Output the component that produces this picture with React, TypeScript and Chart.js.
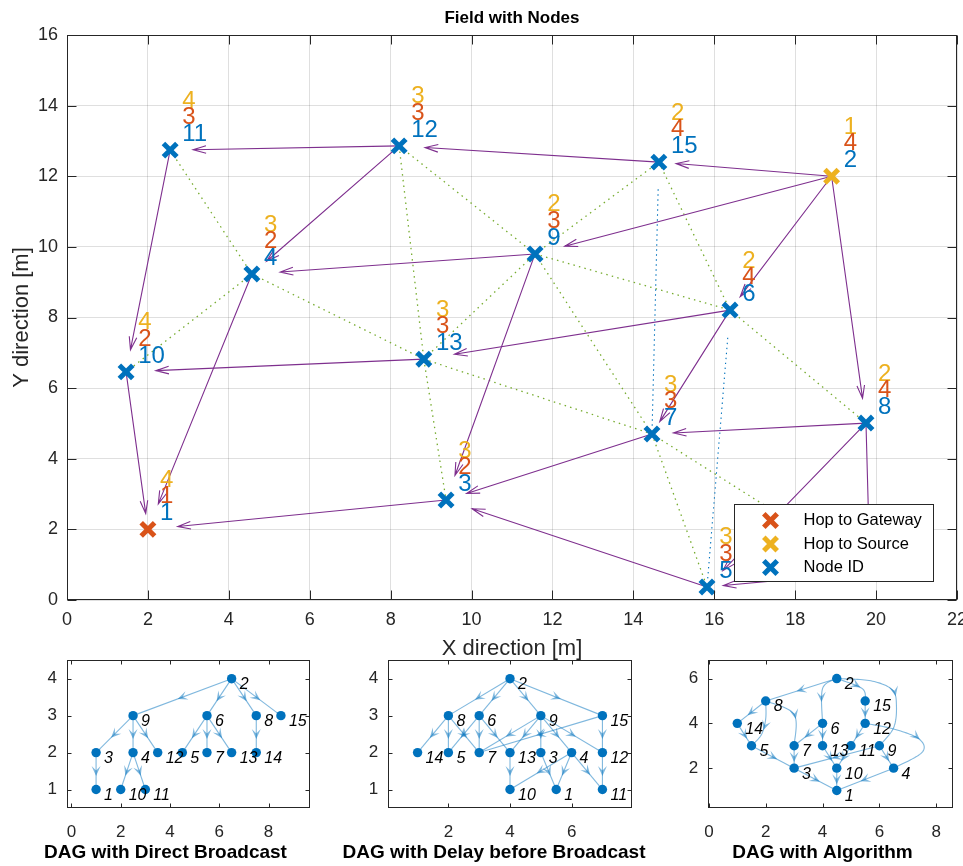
import React, { useEffect, useRef } from 'react';
import { Chart, registerables } from 'chart.js';
Chart.register(...registerables);

const FONT = '"Liberation Sans", Arial, Helvetica, sans-serif';
const BLUE = '#0072BD';
const RED = '#D95319';
const YELLOW = '#EDB120';
const PURPLE = '#7E2F8E';
const GREEN = '#77AC30';
const AXIS = '#262626';

// ---------------- Field data ----------------
const nodeIds = [1, 2, 3, 4, 5, 6, 7, 8, 9, 10, 11, 12, 13, 14, 15];
const nodeX = [2.0, 18.9, 9.37, 4.57, 15.82, 16.39, 14.46, 19.75, 11.57, 1.46, 2.55, 8.21, 8.82, 19.85, 14.63];
const nodeY = [2.0, 12.0, 2.83, 9.23, 0.37, 8.21, 4.70, 5.01, 9.80, 6.46, 12.74, 12.86, 6.82, 0.79, 12.40];
const hopToGateway = [1, 4, 2, 2, 3, 4, 3, 4, 3, 2, 3, 3, 3, 4, 4];
const hopToSource = [4, 1, 3, 3, 3, 2, 3, 2, 2, 4, 4, 3, 3, 2, 2];
const gatewayNodes = [1];
const sourceNodes = [2];
// routing arrows (from -> to)
const routeFrom = [2, 2, 2, 2, 15, 12, 12, 11, 10, 9, 9, 4, 13, 6, 6, 8, 8, 8, 14, 7, 5, 3];
const routeTo = [15, 9, 6, 8, 12, 11, 4, 10, 1, 4, 3, 1, 10, 13, 7, 7, 5, 14, 5, 3, 3, 1];
// neighbour links (green dotted)
const linkFrom = [11, 4, 4, 12, 13, 12, 13, 9, 9, 9, 7, 13, 15, 6, 7];
const linkTo = [4, 10, 13, 13, 3, 9, 9, 15, 6, 7, 5, 7, 6, 8, 14];
// blue dotted links
const blueFrom = [15, 6];
const blueTo = [7, 5];
const fieldXRange = [0, 22, 2];
const fieldYRange = [0, 16, 2];
const legendLabels = ['Hop to Gateway', 'Hop to Source', 'Node ID'];

// ---------------- DAG data ----------------
const dag1X = [1, 6.5, 1, 2.5, 4.5, 5.5, 5.5, 7.5, 2.5, 2, 3, 3.5, 6.5, 7.5, 8.5];
const dag1Y = [1, 4, 2, 2, 2, 3, 2, 3, 3, 1, 1, 2, 2, 2, 3];
const dag1From = [2, 2, 2, 2, 9, 9, 9, 6, 6, 6, 8, 3, 4, 4];
const dag1To = [9, 6, 8, 15, 3, 4, 12, 5, 7, 13, 14, 1, 10, 11];
const dag1XTicks = [0, 2, 4, 6, 8];
const dag1YTicks = [1, 2, 3, 4];

const dag2X = [5.5, 4, 5, 6, 2, 3, 3, 2, 5, 4, 7, 7, 4, 1, 7];
const dag2Y = [1, 4, 2, 2, 2, 3, 2, 3, 3, 1, 1, 2, 2, 2, 3];
const dag2From = [2, 2, 2, 2, 8, 8, 8, 6, 6, 6, 9, 9, 9, 9, 9, 15, 15, 13, 3, 4, 4, 4, 12];
const dag2To = [8, 6, 9, 15, 14, 5, 7, 5, 7, 13, 7, 13, 3, 4, 12, 7, 12, 10, 1, 1, 10, 11, 11];
const dag2XTicks = [2, 4, 6];
const dag2YTicks = [1, 2, 3, 4];

const dag3X = [4.5, 4.5, 3, 6.5, 1.5, 4, 3, 2, 6, 4.5, 5, 5.5, 4, 1, 5.5];
const dag3Y = [1, 6, 2, 2, 3, 4, 3, 5, 3, 2, 3, 4, 3, 4, 5];
const dag3From = routeFrom;
const dag3To = routeTo;
const dag3BendFrom = [2, 12, 8, 8, 2, 2];
const dag3BendTo = [9, 4, 5, 7, 6, 15];
const dag3BendX = [[5.7, 6.45, 6.6, 6.5], [6.5, 7.4, 7.5], [2.0, 1.85], [3.0], [4.0], [5.4]];
const dag3BendY = [[5.9, 5.5, 4.8, 3.8], [3.75, 3.3, 2.7], [4.2, 3.5], [4.4], [5.55], [5.55]];
const dag3XTicks = [0, 2, 4, 6, 8];
const dag3YTicks = [2, 4, 6];

// ---------------- helpers ----------------
const boxPlugin = {
  id: 'matlabBox',
  afterDraw(chart: any, _args: any, opts: any) {
    const { ctx, chartArea: ca, scales } = chart;
    const len = opts.tickLen || 5;
    ctx.save();
    ctx.strokeStyle = AXIS;
    ctx.lineWidth = 1;
    const L = Math.round(ca.left) + 0.5, R = Math.round(ca.right) - 0.5;
    const T = Math.round(ca.top) + 0.5, B = Math.round(ca.bottom) - 0.5;
    ctx.strokeRect(L, T, R - L, B - T);
    ctx.beginPath();
    scales.x.ticks.forEach((t: any) => {
      const p = Math.round(scales.x.getPixelForValue(t.value)) + 0.5;
      ctx.moveTo(p, B); ctx.lineTo(p, B - len);
      ctx.moveTo(p, T); ctx.lineTo(p, T + len);
    });
    scales.y.ticks.forEach((t: any) => {
      const p = Math.round(scales.y.getPixelForValue(t.value)) + 0.5;
      ctx.moveTo(L, p); ctx.lineTo(L + len, p);
      ctx.moveTo(R, p); ctx.lineTo(R - len, p);
    });
    ctx.stroke();
    ctx.restore();
  },
};

function drawCross(ctx: any, x: number, y: number, r: number, color: string) {
  const o = r * Math.SQRT1_2;
  ctx.save();
  ctx.strokeStyle = color;
  ctx.lineWidth = 5;
  ctx.beginPath();
  ctx.moveTo(x - o, y - o); ctx.lineTo(x + o, y + o);
  ctx.moveTo(x + o, y - o); ctx.lineTo(x - o, y + o);
  ctx.stroke();
  ctx.restore();
}

const fieldPlugin = {
  id: 'fieldOverlay',
  beforeDatasetsDraw(chart: any) {
    const { ctx, scales, chartArea: ca } = chart;
    const P = (id: number) => [scales.x.getPixelForValue(nodeX[id - 1]), scales.y.getPixelForValue(nodeY[id - 1])];
    ctx.save();
    ctx.beginPath();
    ctx.rect(ca.left, ca.top, ca.right - ca.left, ca.bottom - ca.top);
    ctx.clip();
    // green dotted links
    ctx.strokeStyle = GREEN;
    ctx.lineWidth = 1.3;
    ctx.setLineDash([1.5, 4.2]);
    linkFrom.forEach((f, k) => {
      const a = P(f), b = P(linkTo[k]);
      ctx.beginPath(); ctx.moveTo(a[0], a[1]); ctx.lineTo(b[0], b[1]); ctx.stroke();
    });
    // blue dotted
    ctx.strokeStyle = BLUE;
    ctx.lineWidth = 1.1;
    ctx.setLineDash([1.4, 3.6]);
    blueFrom.forEach((f, k) => {
      const a = P(f), b = P(blueTo[k]);
      ctx.beginPath();
      ctx.moveTo(a[0] + 0.1 * (b[0] - a[0]), a[1] + 0.1 * (b[1] - a[1]));
      ctx.lineTo(a[0] + 0.97 * (b[0] - a[0]), a[1] + 0.97 * (b[1] - a[1]));
      ctx.stroke();
    });
    // purple arrows (quiver scale 0.9)
    ctx.setLineDash([]);
    ctx.strokeStyle = PURPLE;
    ctx.lineWidth = 1.1;
    routeFrom.forEach((f, k) => {
      const a = P(f), b = P(routeTo[k]);
      const tx = a[0] + 0.9 * (b[0] - a[0]), ty = a[1] + 0.9 * (b[1] - a[1]);
      const d = Math.hypot(tx - a[0], ty - a[1]);
      const ux = (tx - a[0]) / d, uy = (ty - a[1]) / d;
      const hl = 13, hw = 3.8;
      ctx.beginPath();
      ctx.moveTo(a[0], a[1]); ctx.lineTo(tx, ty);
      ctx.moveTo(tx - hl * ux - hw * uy, ty - hl * uy + hw * ux);
      ctx.lineTo(tx, ty);
      ctx.lineTo(tx - hl * ux + hw * uy, ty - hl * uy - hw * ux);
      ctx.stroke();
    });
    ctx.restore();
  },
  afterDatasetsDraw(chart: any) {
    const { ctx, scales } = chart;
    ctx.save();
    ctx.font = `24px ${FONT}`;
    ctx.textAlign = 'left';
    ctx.textBaseline = 'middle';
    const layers: [number[], string, number][] = [
      [hopToSource, YELLOW, 1.39],
      [hopToGateway, RED, 0.93],
      [nodeIds, BLUE, 0.45],
    ];
    layers.forEach(([vals, color, dy]) => {
      ctx.fillStyle = color;
      nodeIds.forEach((id, i) => {
        const x = scales.x.getPixelForValue(nodeX[i] + 0.3);
        const y = scales.y.getPixelForValue(nodeY[i] + dy);
        ctx.fillText(String(vals[i]), x, y);
      });
    });
    ctx.restore();
  },
  afterDraw(chart: any) {
    const { ctx, chartArea: ca } = chart;
    const w = 199, h = 77;
    const x0 = Math.round(ca.right - 24 - w) + 0.5, y0 = Math.round(ca.bottom - 19 - h) + 0.5;
    ctx.save();
    ctx.fillStyle = '#fff';
    ctx.fillRect(x0, y0, w, h);
    ctx.strokeStyle = AXIS;
    ctx.lineWidth = 1;
    ctx.strokeRect(x0, y0, w, h);
    const colors = [RED, YELLOW, BLUE];
    const rows = [16, 39.5, 63];
    ctx.font = `16.5px ${FONT}`;
    ctx.textBaseline = 'middle';
    ctx.textAlign = 'left';
    legendLabels.forEach((lab, i) => {
      drawCross(ctx, x0 + 36, y0 + rows[i], 9.5, colors[i]);
      ctx.fillStyle = '#000';
      ctx.fillText(lab, x0 + 69, y0 + rows[i]);
    });
    ctx.restore();
  },
};

function catmull(pts: number[][], samples = 16): number[][] {
  if (pts.length < 3) return pts;
  const out: number[][] = [];
  for (let i = 0; i < pts.length - 1; i++) {
    const p0 = pts[Math.max(i - 1, 0)], p1 = pts[i], p2 = pts[i + 1], p3 = pts[Math.min(i + 2, pts.length - 1)];
    for (let s = 0; s < samples; s++) {
      const t = s / samples, t2 = t * t, t3 = t2 * t;
      const c = (k: number) => 0.5 * (2 * p1[k] + (-p0[k] + p2[k]) * t + (2 * p0[k] - 5 * p1[k] + 4 * p2[k] - p3[k]) * t2 + (-p0[k] + 3 * p1[k] - 3 * p2[k] + p3[k]) * t3);
      out.push([c(0), c(1)]);
    }
  }
  out.push(pts[pts.length - 1]);
  return out;
}

function makeDagPlugin(xs: number[], ys: number[], from: number[], to: number[], bFrom: number[], bTo: number[], bX: number[][], bY: number[][], title: string, titleX: number) {
  return {
    id: 'dagOverlay',
    beforeDatasetsDraw(chart: any) {
      const { ctx, scales } = chart;
      const px = (x: number, y: number) => [scales.x.getPixelForValue(x), scales.y.getPixelForValue(y)];
      ctx.save();
      ctx.strokeStyle = 'rgba(0,114,189,0.5)';
      ctx.fillStyle = 'rgba(0,114,189,0.5)';
      ctx.lineWidth = 1.1;
      from.forEach((f, k) => {
        const t = to[k];
        const pts: number[][] = [[xs[f - 1], ys[f - 1]]];
        const bi = bFrom.findIndex((bf, j) => bf === f && bTo[j] === t);
        if (bi >= 0) bX[bi].forEach((vx, j) => pts.push([vx, bY[bi][j]]));
        pts.push([xs[t - 1], ys[t - 1]]);
        const path = catmull(pts.map((p) => px(p[0], p[1])));
        ctx.beginPath();
        ctx.moveTo(path[0][0], path[0][1]);
        for (let i = 1; i < path.length; i++) ctx.lineTo(path[i][0], path[i][1]);
        ctx.stroke();
        // arrowhead at middle
        const cum = [0];
        for (let i = 1; i < path.length; i++) cum.push(cum[i - 1] + Math.hypot(path[i][0] - path[i - 1][0], path[i][1] - path[i - 1][1]));
        const total = cum[cum.length - 1];
        const hl = 10, hw = 4.5;
        const target = total / 2 + hl / 2;
        let i = 1;
        while (i < cum.length - 1 && cum[i] < target) i++;
        const seg = cum[i] - cum[i - 1] || 1;
        const r = (target - cum[i - 1]) / seg;
        const tx = path[i - 1][0] + r * (path[i][0] - path[i - 1][0]);
        const ty = path[i - 1][1] + r * (path[i][1] - path[i - 1][1]);
        const ux = (path[i][0] - path[i - 1][0]) / seg, uy = (path[i][1] - path[i - 1][1]) / seg;
        ctx.beginPath();
        ctx.moveTo(tx, ty);
        ctx.lineTo(tx - hl * ux - hw * uy, ty - hl * uy + hw * ux);
        ctx.lineTo(tx - 0.55 * hl * ux, ty - 0.55 * hl * uy);
        ctx.lineTo(tx - hl * ux + hw * uy, ty - hl * uy - hw * ux);
        ctx.closePath();
        ctx.fill();
      });
      ctx.restore();
    },
    afterDatasetsDraw(chart: any) {
      const { ctx, scales } = chart;
      ctx.save();
      ctx.font = `italic 16px ${FONT}`;
      ctx.fillStyle = '#000';
      ctx.textBaseline = 'middle';
      ctx.textAlign = 'left';
      nodeIds.forEach((id, i) => {
        ctx.fillText(String(id), scales.x.getPixelForValue(xs[i]) + 8, scales.y.getPixelForValue(ys[i]) + 6);
      });
      ctx.restore();
    },
    afterDraw(chart: any) {
      const { ctx } = chart;
      ctx.save();
      ctx.font = `bold 19px ${FONT}`;
      ctx.fillStyle = '#000';
      ctx.textAlign = 'center';
      ctx.textBaseline = 'middle';
      ctx.fillText(title, titleX, 213);
      ctx.restore();
    },
  };
}

function FieldChart() {
  const ref = useRef<HTMLCanvasElement>(null);
  useEffect(() => {
    const isSpecial = (id: number) => gatewayNodes.includes(id) || sourceNodes.includes(id);
    const pt = (id: number) => ({ x: nodeX[id - 1], y: nodeY[id - 1] });
    const mk = (label: string, ids: number[], color: string) => ({
      label,
      data: ids.map(pt),
      showLine: false,
      pointStyle: 'crossRot',
      pointRadius: 9.5,
      pointHoverRadius: 9.5,
      pointBorderWidth: 5,
      pointHoverBorderWidth: 5,
      pointBorderColor: color,
      pointBackgroundColor: color,
      borderColor: color,
      backgroundColor: color,
    });
    const layoutPadding = { top: 0, right: 24, bottom: 0, left: 0 };
    const chart = new Chart(ref.current as HTMLCanvasElement, {
      type: 'scatter',
      data: {
        datasets: [
          mk(legendLabels[2], nodeIds.filter((id) => !isSpecial(id)), BLUE),
          mk(legendLabels[0], gatewayNodes, RED),
          mk(legendLabels[1], sourceNodes, YELLOW),
        ] as any,
      },
      options: {
        animation: false,
        responsive: false,
        maintainAspectRatio: false,
        events: [],
        layout: { padding: layoutPadding },
        plugins: {
          legend: { display: false },
          tooltip: { enabled: false },
          title: {
            display: true,
            text: 'Field with Nodes',
            color: '#000',
            font: { family: FONT, size: 17, weight: 'bold' },
            padding: { top: 7.8, bottom: 6.8 },
            fullSize: false,
          },
          matlabBox: { tickLen: 9 },
        } as any,
        scales: {
          x: {
            type: 'linear',
            min: fieldXRange[0],
            max: fieldXRange[1],
            ticks: { stepSize: fieldXRange[2], color: AXIS, font: { family: FONT, size: 18 }, padding: 9, maxRotation: 0, autoSkip: false },
            grid: { color: 'rgba(38,38,38,0.15)', lineWidth: 1, drawTicks: false },
            border: { display: false },
            title: { display: true, text: 'X direction [m]', color: AXIS, font: { family: FONT, size: 22 }, padding: { top: 0, bottom: 0 } },
            afterFit: (s: any) => { s.height = 62; },
          },
          y: {
            type: 'linear',
            min: fieldYRange[0],
            max: fieldYRange[1],
            ticks: { stepSize: fieldYRange[2], color: AXIS, font: { family: FONT, size: 18 }, padding: 9, autoSkip: false },
            grid: { color: 'rgba(38,38,38,0.15)', lineWidth: 1, drawTicks: false },
            border: { display: false },
            title: { display: true, text: 'Y direction [m]', color: AXIS, font: { family: FONT, size: 22 }, padding: { top: 8.8, bottom: 0 } },
            afterFit: (s: any) => { s.width = 67; },
          },
        } as any,
      },
      plugins: [fieldPlugin, boxPlugin],
    });
    // place the plot box so that its right edge sits at x = 957
    for (let k = 0; k < 4; k++) {
      const d = chart.chartArea.right - 957;
      if (Math.abs(d) < 0.3) break;
      layoutPadding.right += d;
      (chart.config.options as any).layout.padding = { ...layoutPadding };
      chart.update();
    }
    return () => chart.destroy();
  }, []);
  return <canvas ref={ref} width={1000} height={662} style={{ position: 'absolute', left: 0, top: 0, width: 1000, height: 662 }} />;
}

type DagProps = {
  left: number; width: number; yAxisW: number; padRight: number; titleCenter: number;
  xs: number[]; ys: number[]; from: number[]; to: number[];
  bFrom: number[]; bTo: number[]; bX: number[][]; bY: number[][];
  xMin: number; xMax: number; xTicks: number[]; yMin: number; yMax: number; yTicks: number[]; title: string;
};

function DagChart(p: DagProps) {
  const ref = useRef<HTMLCanvasElement>(null);
  useEffect(() => {
    const chart = new Chart(ref.current as HTMLCanvasElement, {
      type: 'scatter',
      data: {
        datasets: [{
          label: 'nodes',
          data: p.xs.map((x, i) => ({ x, y: p.ys[i] })),
          pointRadius: 4.7,
          pointHoverRadius: 4.7,
          pointBorderWidth: 0,
          pointBackgroundColor: BLUE,
          backgroundColor: BLUE,
          borderColor: BLUE,
          showLine: false,
        }] as any,
      },
      options: {
        animation: false,
        responsive: false,
        maintainAspectRatio: false,
        events: [],
        layout: { padding: { top: 18, right: p.padRight, bottom: 0, left: 0 } },
        plugins: {
          legend: { display: false },
          tooltip: { enabled: false },
          title: { display: false },
          matlabBox: { tickLen: 4 },
        } as any,
        scales: {
          x: {
            type: 'linear',
            min: p.xMin,
            max: p.xMax,
            ticks: { color: AXIS, font: { family: FONT, size: 17 }, padding: 14, maxRotation: 0, autoSkip: false },
            afterBuildTicks: (s: any) => { s.ticks = p.xTicks.map((v) => ({ value: v })); },
            grid: { display: false, drawTicks: false },
            border: { display: false },
            afterFit: (s: any) => { s.height = 58; },
          },
          y: {
            type: 'linear',
            min: p.yMin,
            max: p.yMax,
            ticks: { color: AXIS, font: { family: FONT, size: 17 }, padding: 10, autoSkip: false },
            afterBuildTicks: (s: any) => { s.ticks = p.yTicks.map((v) => ({ value: v })); },
            grid: { display: false, drawTicks: false },
            border: { display: false },
            afterFit: (s: any) => { s.width = p.yAxisW; },
          },
        } as any,
      },
      plugins: [makeDagPlugin(p.xs, p.ys, p.from, p.to, p.bFrom, p.bTo, p.bX, p.bY, p.title, p.titleCenter - p.left), boxPlugin],
    });
    return () => chart.destroy();
  }, []);
  return <canvas ref={ref} width={p.width} height={226} style={{ position: 'absolute', left: p.left, top: 640, width: p.width, height: 226 }} />;
}

export default function App() {
  return (
    <div style={{ position: 'absolute', left: 0, top: 0, width: 963, height: 866, overflow: 'hidden', background: '#fff' }}>
      <FieldChart />
      <DagChart left={0} width={331} yAxisW={67} padRight={21} titleCenter={165.5}
        xs={dag1X} ys={dag1Y} from={dag1From} to={dag1To} bFrom={[]} bTo={[]} bX={[]} bY={[]}
        xMin={-0.18} xMax={9.68} xTicks={dag1XTicks} yMin={0.5} yMax={4.5} yTicks={dag1YTicks} title="DAG with Direct Broadcast" />
      <DagChart left={332} width={316} yAxisW={56.3} padRight={16.3} titleCenter={494}
        xs={dag2X} ys={dag2Y} from={dag2From} to={dag2To} bFrom={[]} bTo={[]} bX={[]} bY={[]}
        xMin={0.05} xMax={7.95} xTicks={dag2XTicks} yMin={0.5} yMax={4.5} yTicks={dag2YTicks} title="DAG with Delay before Broadcast" />
      <DagChart left={650} width={335} yAxisW={58.3} padRight={32.3} titleCenter={822.5}
        xs={dag3X} ys={dag3Y} from={dag3From} to={dag3To} bFrom={dag3BendFrom} bTo={dag3BendTo} bX={dag3BendX} bY={dag3BendY}
        xMin={-0.02} xMax={8.58} xTicks={dag3XTicks} yMin={0.22} yMax={6.82} yTicks={dag3YTicks} title="DAG with Algorithm" />
    </div>
  );
}
